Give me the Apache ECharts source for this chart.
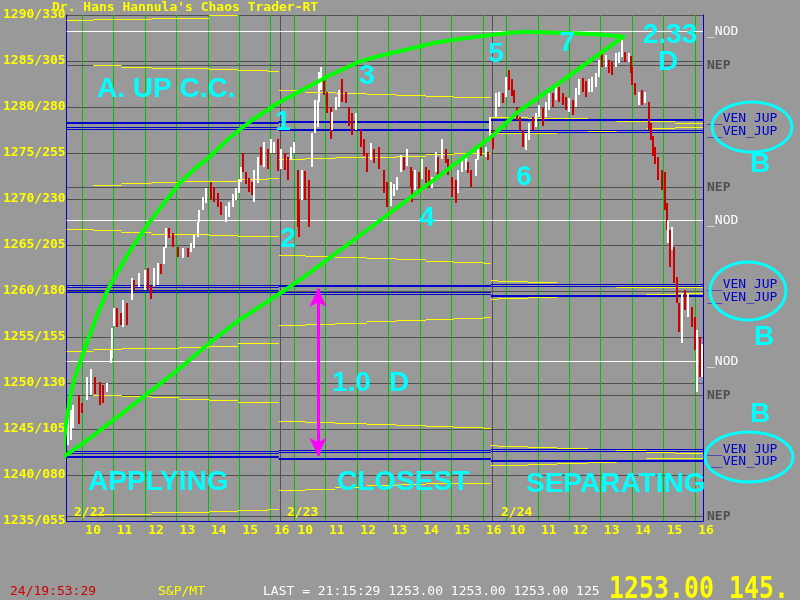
<!DOCTYPE html>
<html><head><meta charset="utf-8">
<script src="https://cdn.jsdelivr.net/npm/echarts@6/dist/echarts.min.js"></script>
<style>html,body{margin:0;padding:0;background:#999999;}#c{width:800px;height:600px;}</style>
</head><body><div id="c"></div>
<script>
// ---- axis labels ----
const priceTickLabels = ['1235/055','1240/080','1245/105','1250/130','1255/155','1260/180','1265/205','1270/230','1275/255','1280/280','1285/305','1290/330'];
const hourTicks = [30, 90, 150, 210, 270, 330, 390];          // minutes after 9:30
const hourLabels = ['10','11','12','13','14','15','16'];
const dayLabels = ['2/22','2/23','2/24'];
const daySeparators = [408, 813];
const DAY = 405;

// ---- price bars: [minute, low, high, up(1)/down(0)] ----
const barsDay1 = [
[2,1243.3,1246.2,1],[8,1243.8,1247.1,1],[13,1245.1,1247.6,1],[23,1245.5,1248.7,0],[30,1246.8,1247.85,0],
[38,1248.2,1250.7,1],[46,1248.7,1251.55,1],[55,1248.7,1250.6,0],[63,1247.6,1250.15,0],[70,1247.85,1249.8,0],
[78,1249.05,1250.0,1],[84,1252.2,1253.6,1],[87,1252.75,1256.0,1],[91,1256.1,1258.1,1],[97,1256.1,1258.2,0],
[103,1256.3,1257.6,0],[108,1256.1,1259.05,1],[116,1256.3,1258.7,0],[124,1259.05,1261.4,1],[129,1260.15,1261.2,0],
[139,1260.5,1262.0,1],[150,1260.15,1262.3,1],[156,1260.15,1262.5,0],[162,1259.05,1260.5,0],[167,1260.5,1262.5,1],
[175,1260.7,1263.07,1],[180,1261.8,1262.9,0],[186,1262.9,1264.8,1],[190,1264.7,1266.9,1],[196,1265.8,1266.9,0],
[203,1264.8,1266.3,0],[213,1263.7,1264.8,0],[222,1263.6,1264.7,1],[232,1263.7,1264.7,0],[238,1264.3,1265.25,1],
[243,1264.7,1266.1,1],[251,1265.9,1267.5,1],[253,1267.5,1268.8,1],[260,1268.8,1270.25,1],[266,1269.6,1271.2,1],
[276,1270.1,1271.9,0],[281,1269.7,1271.3,0],[289,1269.2,1270.7,0],[295,1268.3,1269.7,0],[304,1267.5,1269.2,1],
[310,1268.07,1269.7,1],[317,1269.05,1270.5,1],[323,1269.9,1271.2,1],[329,1270.7,1272.1,1],[333,1271.9,1273.5,1],
[336,1272.9,1275.0,0],[342,1271.6,1272.9,0],[348,1270.8,1272.3,0],[353,1270.5,1271.9,0],[357,1269.7,1273.2,1],
[365,1271.8,1274.6,1],[371,1273.7,1275.7,0],[376,1273.5,1276.2,1],[384,1273.2,1275.4,0],[390,1275.0,1276.5,1],
[395,1275.0,1276.2,1],[403,1273.0,1276.5,0]
];
const barsDay2 = [
[5,1273.2,1275.4,1],[11,1273.2,1275.0,0],[17,1272.1,1274.6,0],[24,1274.3,1275.7,1],[30,1275.0,1276.2,1],
[36,1267.0,1273.2,0],[39,1265.9,1269.9,0],[45,1269.9,1273.2,1],[51,1269.9,1273.0,0],[58,1267.0,1272.1,0],
[64,1273.5,1277.2,1],[70,1277.2,1280.8,1],[74,1277.9,1280.8,1],[77,1280.5,1283.8,1],[81,1281.9,1284.4,1],
[87,1281.3,1283.3,0],[93,1279.4,1281.66,0],[100,1276.5,1280.0,0],[102,1277.5,1279.5,1],[110,1279.7,1281.1,1],
[115,1280.0,1281.9,1],[121,1280.5,1283.0,0],[129,1280.5,1281.66,0],[134,1277.9,1280.0,0],[140,1277.0,1279.4,0],
[148,1277.5,1279.4,1],[157,1275.7,1277.5,0],[163,1274.6,1276.5,0],[168,1272.9,1275.0,0],[176,1274.3,1276.1,1],
[182,1273.9,1275.4,0],[191,1273.2,1275.6,0],[201,1270.7,1273.2,0],[206,1269.2,1271.9,0],[214,1269.2,1271.8,1],
[220,1270.25,1271.6,1],[225,1271.0,1272.4,1],[233,1272.9,1274.8,1],[239,1273.2,1274.6,0],[244,1273.5,1275.4,1],
[252,1271.3,1273.5,0],[254,1269.6,1273.0,0],[261,1271.0,1273.2,1],[267,1270.7,1272.9,0],[273,1272.1,1274.3,1],
[281,1271.8,1273.5,0],[286,1271.3,1273.2,0],[292,1271.2,1272.4,1],[300,1273.0,1275.14,1],[305,1272.4,1274.6,0],
[311,1274.3,1276.5,1],[319,1273.9,1275.4,0],[324,1272.6,1274.3,0],[330,1270.25,1272.4,0],[338,1269.6,1272.1,0],
[343,1270.7,1273.2,1],[349,1272.9,1274.3,1],[357,1273.2,1274.8,1],[362,1272.9,1274.05,0],[368,1271.3,1273.2,0],
[376,1272.4,1274.3,1],[381,1274.3,1275.7,1],[387,1274.6,1275.6,0],[395,1274.6,1275.7,1],[400,1274.3,1275.14,0],
[404,1276.5,1278.9,1]
];
const barsDay3 = [
[4,1275.4,1277.5,0],[10,1278.9,1281.55,1],[16,1280.0,1281.66,1],[23,1280.5,1281.55,0],[29,1281.1,1283.3,1],
[35,1281.9,1284.05,0],[40,1281.1,1283.0,0],[44,1280.5,1281.9,0],[50,1278.6,1280.0,0],[56,1277.5,1278.9,0],
[61,1275.7,1277.5,0],[67,1275.4,1277.2,1],[73,1276.5,1278.3,1],[80,1277.5,1278.9,0],[86,1277.9,1279.4,1],
[92,1278.9,1280.25,1],[99,1277.9,1279.9,0],[105,1278.9,1280.5,1],[111,1279.7,1281.55,1],[118,1280.0,1281.55,0],
[124,1280.8,1282.4,1],[130,1280.6,1282.2,0],[137,1280.25,1281.55,0],[143,1279.7,1281.1,0],[149,1279.5,1281.0,1],
[156,1279.2,1280.8,0],[162,1280.0,1282.1,1],[168,1281.3,1283.0,1],[175,1281.66,1283.2,0],[181,1281.1,1282.8,0],
[187,1281.55,1283.0,1],[194,1281.66,1283.3,1],[200,1282.2,1283.7,1],[206,1283.3,1285.1,1],[213,1284.4,1285.9,0],
[219,1284.4,1285.7,1],[225,1283.7,1285.1,0],[232,1283.5,1284.9,0],[238,1284.4,1285.9,1],[244,1284.8,1286.0,1],
[251,1285.5,1287.64,1],[257,1284.9,1286.0,0],[263,1284.9,1285.9,1],[267,1283.7,1285.5,0],[270,1282.4,1284.4,0],
[276,1281.3,1282.6,0],[282,1280.25,1281.66,1],[289,1280.25,1281.9,0],[295,1280.5,1281.66,1],[301,1277.5,1280.5,0],
[305,1276.5,1278.3,0],[310,1274.6,1276.8,0],[314,1273.9,1275.7,0],[320,1272.1,1274.6,0],[327,1271.0,1273.2,0],
[333,1268.8,1272.9,0],[337,1266.66,1269.6,0],[339,1265.25,1267.75,1],[342,1262.6,1266.66,0],[346,1264.5,1267.0,1],
[350,1260.9,1264.8,0],[356,1258.7,1261.55,0],[359,1255.5,1258.7,0],[365,1254.4,1259.8,1],[371,1258.0,1260.15,0],
[376,1257.2,1259.8,1],[384,1256.1,1258.3,0],[390,1253.6,1257.2,0],[393,1249.05,1255.8,1],[399,1250.7,1255.0,0],
[403,1250.6,1254.2,1]
];

// ---- level lines ----
const nodLevels = [1288.21, 1267.66, 1252.34];
const nepLevels = [1284.51, 1271.25, 1248.64, 1235.49];
// VEN/JUP bands, each line: value on day1, day2, day3
const venJupBand1 = [[1278.33,1278.43,1278.69],[1278.18,1278.29,1278.51],[1277.80,1277.53,1277.46],[1277.59,1277.42,1277.28]];
const venJupBand2 = [[1260.57,1260.63,1260.68],[1260.36,1260.47,1260.50],[1260.06,1259.81,1259.56],[1259.87,1259.60,1259.38]];
const venJupBand3 = [[1242.58,1242.64,1242.75],[1242.39,1242.48,1242.56],[1242.02,1241.77,1241.63],[1241.88,1241.66,1241.44]];

// ---- yellow stepped lines (per day) ----
const yellowSteps1 = [0, 51, 105, 162, 215, 272, 327, 384, 405];
const yellowDay1 = [
 [1289.38,1289.49,1289.49,1289.67,1289.67,1289.92,1290.14,1290.25],
 [null,1284.46,1284.30,1284.19,1284.19,1284.05,1283.94,1283.84],
 [null,1271.52,1271.66,1271.74,1271.88,1271.95,1272.10,1272.21],
 [1266.66,1266.55,1266.41,1266.19,1266.12,1266.01,1265.93,1265.87],
 [1253.43,1253.62,1253.73,1253.80,1253.87,1254.02,1254.24,1254.30],
 [null,1248.62,1248.54,1248.37,1248.18,1248.07,1247.93,1247.89],
 [null,1235.71,1235.71,1235.87,1235.97,1236.04,1236.15,1236.26]
];
const yellowSteps2 = [0, 51, 108, 168, 225, 281, 334, 391, 405];
const yellowDay2 = [
 [1281.77,1281.63,1281.52,1281.41,1281.30,1281.15,1280.98,1280.98],
 [1274.27,1274.35,1274.46,1274.56,1274.63,1274.81,1274.92,1275.00],
 [1263.84,1263.73,1263.59,1263.48,1263.37,1263.26,1263.15,1263.04],
 [1256.30,1256.41,1256.52,1256.66,1256.77,1256.88,1256.99,1257.10],
 [1245.82,1245.76,1245.65,1245.52,1245.41,1245.30,1245.14,1245.03],
 [1238.32,1238.47,1238.69,1238.83,1238.94,1239.05,1239.13,1239.13]
];
const yellowSteps3 = [0, 13, 71, 126, 185, 240, 297, 352, 405];
const yellowDay3 = [
 [1278.91,1278.86,1278.80,1278.71,1278.54,1278.46,1278.37,1278.26],
 [1277.10,1277.10,1277.17,1277.28,1277.35,1277.50,1277.62,1277.72],
 [1261.12,1261.01,1260.87,1260.68,1260.50,1260.43,1260.39,1260.33],
 [1259.05,1259.19,1259.27,1259.35,1259.41,1259.54,1259.67,1259.78],
 [1243.18,1243.13,1243.02,1242.91,1242.75,1242.64,1242.50,1242.39],
 [1241.01,1241.06,1241.17,1241.28,1241.41,1241.61,1241.74,1241.84]
];

// ---- green drawn curves [minute, price] ----
const greenArcUpper = [[-9.5,1241.66],[-4,1244.2],[0,1246.0],[5,1247.8],[9.5,1249.27],[16,1250.6],[22.8,1251.77],[36,1253.94],[57,1257.2],[76,1259.81],[89,1261.23],[120,1264.3],[152,1267.0],[185,1269.5],[216.5,1271.77],[245,1273.3],[273.4,1274.6],[310,1276.6],[349.4,1278.4],[400,1280.3],[450,1281.88],[505,1283.5],[558,1284.92],[600,1285.6],[640,1286.12],[702.6,1286.99],[750,1287.4],[797.6,1287.75],[835,1288.0],[873.5,1288.18],[938,1288.08],[980,1288.0],[1025,1287.86],[1063,1287.64]];
const greenArcLower = [[-5.7,1241.99],[32.3,1243.5],[93,1246.12],[152,1248.73],[212.7,1251.44],[273.4,1254.38],[330.4,1256.88],[406.4,1259.7],[446.3,1261.23],[607.7,1268.07],[810.9,1276.77],[862,1279.49],[930.5,1282.2],[1063,1287.64]];
const arrowSpan = [[480,1242.1],[480,1260.25]];

// ================= build =================
const mono = '"DejaVu Sans Mono", monospace';
const series = [];
const snap = v => Math.round(v - 0.5) + 0.5;

// vertical rules across the plot
function vRules(times, color){
  return {type:'custom', z:1, silent:true, clip:true, data: times.map(t => [t]), encode:{x:0},
    renderItem(p, api){
      const cs = p.coordSys; const x = snap(api.coord([api.value(0), 1260])[0]);
      return {type:'line', shape:{x1:x, y1:cs.y, x2:x, y2:cs.y + cs.height}, style:{stroke:color, lineWidth:1}};
    }};
}
// horizontal segments [t0, t1, price]
function hSegs(items, color, z){
  return {type:'custom', z, silent:true, clip:true, data: items, encode:{x:[0,1], y:2},
    renderItem(p, api){
      const a = api.coord([api.value(0), api.value(2)]), b = api.coord([api.value(1), api.value(2)]);
      const y = snap(a[1]);
      return {type:'line', shape:{x1:a[0], y1:y, x2:b[0], y2:y}, style:{stroke:color, lineWidth:1}};
    }};
}

const hourTimes = [];
for (let d = 0; d < 3; d++) hourTicks.forEach(h => hourTimes.push(d*DAY + h));
series.push(vRules(hourTimes, '#00c000'));
series.push(vRules(daySeparators, '#505050'));
series.push(hSegs(nodLevels.map(v => [0, 3*DAY, v]), '#ffffff', 1));
series.push(hSegs(nepLevels.map(v => [0, 3*DAY, v]), '#505050', 1));

const yellowItems = [];
[[yellowSteps1, yellowDay1],[yellowSteps2, yellowDay2],[yellowSteps3, yellowDay3]].forEach(([steps, lines], d) => {
  lines.forEach(vals => vals.forEach((v, i) => { if (v !== null) yellowItems.push([d*DAY + steps[i], d*DAY + steps[i+1], v]); }));
});
series.push(hSegs(yellowItems, '#ffff00', 2));

const blueItems = [];
[venJupBand1, venJupBand2, venJupBand3].forEach(band => band.forEach(vals => vals.forEach((v, d) => blueItems.push([d*DAY, (d+1)*DAY, v]))));
series.push(hSegs(blueItems, '#0000cc', 3));

const allBars = [];
[barsDay1, barsDay2, barsDay3].forEach((arr, d) => arr.forEach(b => allBars.push([d*DAY + b[0], b[1], b[2], b[3]])));
series.push({
  type:'custom', z:4, silent:true, data: allBars,
  encode:{x:0, y:[1,2]},
  renderItem(params, api){
    const t = api.value(0), lo = api.value(1), hi = api.value(2), up = api.value(3);
    const a = api.coord([t, hi]), b = api.coord([t, lo]);
    return {type:'rect', shape:{x:Math.round(a[0])-1, y:Math.round(a[1]), width:2, height:Math.max(1, Math.round(b[1]-a[1]))}, style:{fill: up ? '#ffffff' : '#cc0000'}};
  }
});

series.push({type:'line', data:greenArcUpper, smooth:false, symbol:'none', clip:false, z:5, silent:true,
  lineStyle:{color:'#00ff00', width:4, join:'round', cap:'round'}});
series.push({type:'line', data:greenArcLower, smooth:false, symbol:'none', clip:false, z:5, silent:true,
  lineStyle:{color:'#00ff00', width:4, join:'round', cap:'round'},
  markLine:{silent:true, animation:false, symbol:['arrow','arrow'], symbolSize:[13,18], label:{show:false},
    lineStyle:{color:'#ff00ff', width:3, type:'solid'},
    data:[[{coord:arrowSpan[0]},{coord:arrowSpan[1]}]]}});

// ---- annotation text ----
const cy = 'bold 28px "Liberation Sans", Arial, sans-serif';
function T(text, x, y, fill, font, align){ return {type:'text', x, y, z:100, silent:true, style:{text, fill, font, align: align || 'left', verticalAlign:'middle'}}; }
const graphics = [
  T("Dr. Hans Hannula's Chaos Trader-RT", 52, 8, '#ffff00', 'bold 13px ' + mono),
  T('A. UP C.C.', 97, 89, '#00ffff', cy),
  T('1', 283, 122, '#00ffff', cy, 'center'),
  T('2', 288, 239, '#00ffff', cy, 'center'),
  T('3', 367, 76, '#00ffff', cy, 'center'),
  T('4', 427, 218, '#00ffff', cy, 'center'),
  T('5', 496, 54, '#00ffff', cy, 'center'),
  T('6', 524, 177, '#00ffff', cy, 'center'),
  T('7', 567, 43, '#00ffff', cy, 'center'),
  T('2.33', 670, 35, '#00ffff', cy, 'center'),
  T('D', 668, 62, '#00ffff', cy, 'center'),
  T('1.0', 332, 383, '#00ffff', cy),
  T('D', 399, 383, '#00ffff', cy, 'center'),
  T('APPLYING', 88, 482, '#00ffff', cy),
  T('CLOSEST', 337, 482, '#00ffff', cy),
  T('SEPARATING', 526, 484, '#00ffff', cy),
  T('B', 760, 164, '#00ffff', cy, 'center'),
  T('B', 764, 337, '#00ffff', cy, 'center'),
  T('B', 760, 414, '#00ffff', cy, 'center'),
  T(dayLabels[0], 74, 513, '#ffff00', 'bold 13px ' + mono),
  T(dayLabels[1], 287, 513, '#ffff00', 'bold 13px ' + mono),
  T(dayLabels[2], 501, 513, '#ffff00', 'bold 13px ' + mono),
  T('_NOD', 707, 32, '#ffffff', '13px ' + mono),
  T('NEP', 707, 66, '#505050', 'bold 13px ' + mono),
  T('__VEN JUP', 707, 119, '#0000cc', '13px ' + mono),
  T('__VEN_JUP', 707, 132, '#0000cc', '13px ' + mono),
  T('NEP', 707, 188, '#505050', 'bold 13px ' + mono),
  T('_NOD', 707, 221, '#ffffff', '13px ' + mono),
  T('__VEN JUP', 707, 285, '#0000cc', '13px ' + mono),
  T('__VEN_JUP', 707, 298, '#0000cc', '13px ' + mono),
  T('_NOD', 707, 362, '#ffffff', '13px ' + mono),
  T('NEP', 707, 396, '#505050', 'bold 13px ' + mono),
  T('__VEN JUP', 707, 450, '#0000cc', '13px ' + mono),
  T('__VEN_JUP', 707, 462, '#0000cc', '13px ' + mono),
  T('NEP', 707, 517, '#505050', 'bold 13px ' + mono),
  T('24/19:53:29', 10, 592, '#cc0000', '13px ' + mono),
  T('S&P/MT', 158, 592, '#ffff00', '13px ' + mono),
  T('LAST = 21:15:29 1253.00 1253.00 1253.00 125', 263, 592, '#ffffff', '13px ' + mono),
  {type:'text', x:609, y:590, scaleX:0.83, z:100, silent:true, style:{text:'1253.00 145.', fill:'#ffff00', font:'bold 30px ' + mono, align:'left', verticalAlign:'middle'}},
  {type:'ellipse', z:100, silent:true, shape:{cx:752, cy:127, rx:40, ry:25}, style:{fill:'none', stroke:'#00ffff', lineWidth:3}},
  {type:'ellipse', z:100, silent:true, shape:{cx:748, cy:291, rx:38, ry:29}, style:{fill:'none', stroke:'#00ffff', lineWidth:3}},
  {type:'ellipse', z:100, silent:true, shape:{cx:749, cy:457, rx:44, ry:25}, style:{fill:'none', stroke:'#00ffff', lineWidth:3}}
];

const chart = echarts.init(document.getElementById('c'), null, {renderer:'canvas'});
chart.setOption({
  animation:false,
  backgroundColor:'#999999',
  grid:{left:63, top:15, width:640, height:506, containLabel:false},
  xAxis:{type:'value', min:0, max:3*DAY,
    axisLine:{show:true, onZero:false, lineStyle:{color:'#0000c0', width:1}},
    axisTick:{show:false}, splitLine:{show:false},
    axisLabel:{customValues:hourTimes, formatter:v => hourLabels[hourTicks.indexOf(((Math.round(v) % DAY) + DAY) % DAY)] || '',
      color:'#ffff00', fontFamily:mono, fontWeight:'bold', fontSize:13, align:'left', padding:[0,0,0,3], margin:3}},
  yAxis:[
    {type:'value', min:1235, max:1290, interval:5, position:'left',
      axisLine:{show:true, lineStyle:{color:'#0000c0', width:1}}, axisTick:{show:false},
      splitLine:{show:true, lineStyle:{color:'#505050', width:1}},
      axisLabel:{formatter:v => priceTickLabels[Math.round((v-1235)/5)], color:'#ffff00', fontFamily:mono, fontWeight:'bold', fontSize:13, margin:1}},
    {type:'value', min:1235, max:1290, interval:5, position:'right',
      axisLine:{show:true, lineStyle:{color:'#0000c0', width:1}}, axisTick:{show:false},
      splitLine:{show:false}, axisLabel:{show:false}}
  ],
  series,
  graphic: graphics
});
</script>
</body></html>
